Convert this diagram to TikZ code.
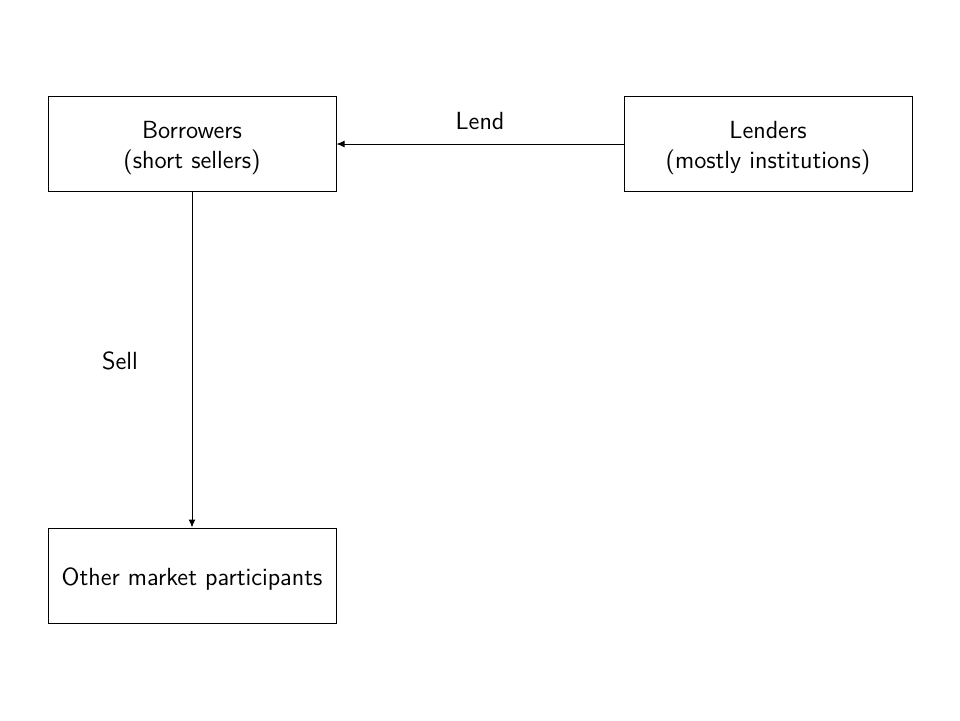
\documentclass[tikz,border=0pt]{standalone}
\usetikzlibrary{arrows.meta}
\newcommand{\dropit}[1]{\raisebox{-2pt}[\height][\depth]{#1}}
\begin{document}
\begin{tikzpicture}[x=0.5pt,y=-0.5pt,
  every node/.style={font=\sffamily\fontsize{12.4}{15}\selectfont},
  box/.style={draw,line width=0.5pt,minimum width=144pt,minimum height=47.5pt,align=center,inner sep=0pt},
  conn/.style={line width=0.5pt,-{Latex[length=4pt,width=3.5pt]}},
  lbl/.style={inner sep=0pt}]
\useasboundingbox (0,0) rectangle (960,720);
\node[box] (bor) at (192,143.5) {\dropit{\begin{tabular}{@{}c@{}}Borrowers\\(short sellers)\end{tabular}}};
\node[box] (len) at (768,143.5) {\dropit{\begin{tabular}{@{}c@{}}Lenders\\(mostly institutions)\end{tabular}}};
\node[box] (oth) at (192,575.5) {\dropit{Other market participants}};
\draw[conn] (len.west |- 0,144) -- (bor.east |- 0,144);
\draw[conn] (bor.south) -- (oth.north);
\node[lbl] (lend) at (480,121) {Lend};
\node[lbl] (sell) at (120,361) {Sell};
\end{tikzpicture}
\end{document}
